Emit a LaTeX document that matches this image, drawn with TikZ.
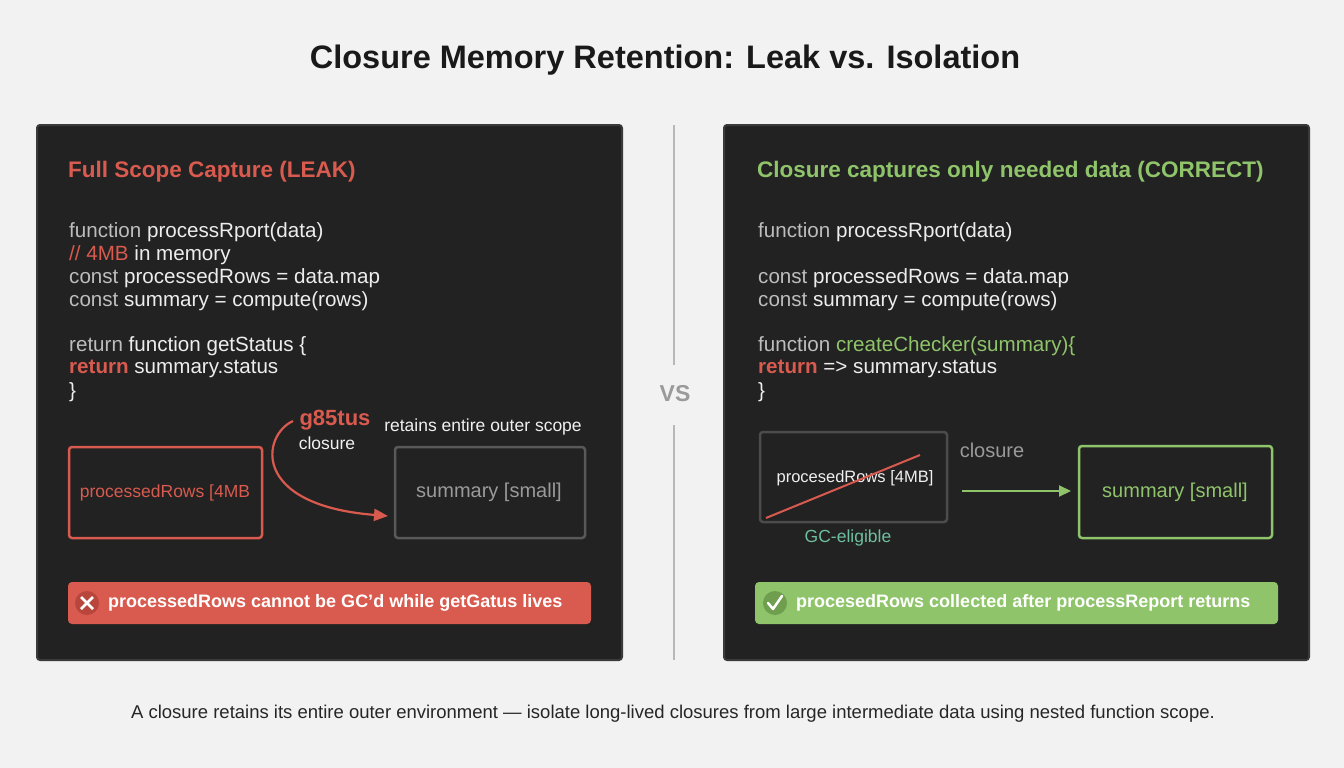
\documentclass[tikz,border=0pt]{standalone}
\usepackage{fontspec}
\setmainfont{Liberation Sans}
\usetikzlibrary{arrows.meta}
\definecolor{bg}{HTML}{F2F2F2}
\definecolor{panel}{HTML}{222222}
\definecolor{pedge}{HTML}{3A3A3A}
\definecolor{red}{HTML}{D95A4E}
\definecolor{dred}{HTML}{B8463C}
\definecolor{grn}{HTML}{8FC46A}
\definecolor{dgrn}{HTML}{6E9E4E}
\definecolor{kw}{HTML}{BDBDBD}
\definecolor{txt}{HTML}{EDEDED}
\definecolor{gry}{HTML}{9A9A9A}
\definecolor{teal}{HTML}{6FBF9F}
\begin{document}
\begin{tikzpicture}[x=1pt,y=-1pt,
  code/.style={anchor=west,inner sep=0,text=txt,font=\fontsize{20.6}{24}\selectfont},
  panelbox/.style={fill=panel,draw=pedge,line width=2pt,rounded corners=3pt},
  box/.style={line width=2.5pt,rounded corners=3pt,fill=panel},
  banner/.style={rounded corners=4pt},
  lbl/.style={inner sep=0,font=\fontsize{17.5}{20}\selectfont}]
\fill[bg] (0,0) rectangle (1344,768);
\node[inner sep=0,font=\bfseries\fontsize{32.5}{36}\selectfont,text=black!90] (title) at (665,60) {Closure Memory Retention: Leak vs. Isolation};
% panels
\draw[panelbox] (37,125) rectangle (622,660);
\draw[panelbox] (724,125) rectangle (1309,660);
% divider
\draw[gry!70,line width=2pt] (674,125) -- (674,365);
\draw[gry!70,line width=2pt] (674,425) -- (674,660);
\node[inner sep=0,font=\bfseries\fontsize{23}{26}\selectfont,text=gry] (vs) at (675,394) {VS};
% left panel
\node[anchor=west,inner sep=0,text=red,font=\bfseries\fontsize{22.5}{26}\selectfont] (lh) at (68,172) {Full Scope Capture (LEAK)};
\node[code] (l1) at (69,232) {\textcolor{kw}{function} processRport(data)};
\node[code] (l2) at (69,255) {\textcolor{red}{// 4MB} in memory};
\node[code] (l3) at (69,278) {\textcolor{kw}{const} processedRows = data.map};
\node[code] (l4) at (69,301) {\textcolor{kw}{const} summary = compute(rows)};
\node[code] (l5) at (69,346) {\textcolor{kw}{return} function getStatus \{};
\node[code] (l6) at (69,369) {\textcolor{red}{\bfseries return} summary.status};
\node[code] (l7) at (69,392) {\}};
\draw[box,draw=red] (69,447) rectangle (262,538);
\node[lbl,text=red] (pr) at (165,493) {processedRows [4MB};
\draw[box,draw=gray!70!black] (395,447) rectangle (585,538);
\node[lbl,text=gry,font=\fontsize{20}{23}\selectfont] (sm) at (489,492) {summary [small]};
\coordinate (as) at (293,421);
\coordinate (ae) at (388,516);
\draw[red,line width=2.2pt,-{Triangle[length=14pt,width=12pt]}] (as) .. controls (262,435) and (250,505) .. (ae);
\node[inner sep=0,text=red,font=\bfseries\fontsize{22}{25}\selectfont] (g8) at (335,420) {g85tus};
\node[lbl,text=txt!85] (cl) at (327,443) {closure};
\node[lbl,text=txt!85] (ret) at (483,427) {retains entire outer scope};
\fill[banner,red] (68,582) rectangle (591,624);
\fill[dred] (87,603) circle (12);
\draw[white,line width=2.5pt] (81,597) -- (93,609) (81,609) -- (93,597);
\node[anchor=west,inner sep=0,text=white,font=\bfseries\fontsize{18}{21}\selectfont] (lb) at (108,603) {processedRows cannot be GC'd while getGatus lives};
% right panel
\node[anchor=west,inner sep=0,text=grn,font=\bfseries\fontsize{22.5}{26}\selectfont] (rh) at (757,172) {Closure captures only needed data (CORRECT)};
\node[code] (r1) at (758,232) {\textcolor{kw}{function} processRport(data)};
\node[code] (r3) at (758,278) {\textcolor{kw}{const} processedRows = data.map};
\node[code] (r4) at (758,301) {\textcolor{kw}{const} summary = compute(rows)};
\node[code] (r5) at (758,346) {\textcolor{kw}{function} \textcolor{grn}{createChecker(summary)\{}};
\node[code] (r6) at (758,369) {\textcolor{red}{\bfseries return} => summary.status};
\node[code] (r7) at (758,392) {\}};
\draw[box,draw=gray!60!black] (760,432) rectangle (947,522);
\node[lbl,text=txt!85,font=\fontsize{16.5}{19}\selectfont] (pr2) at (855,478) {procesedRows [4MB]};
\draw[red,line width=2pt] (766,518) -- (920,455);
\node[lbl,text=teal] (gc) at (848,538) {GC-eligible};
\node[lbl,text=gry,font=\fontsize{20}{23}\selectfont] (cl2) at (992,450) {closure};
\coordinate (bs) at (962,491);
\coordinate (be) at (1071,491);
\draw[grn,line width=2pt,-{Triangle[length=12pt,width=11pt]}] (bs) -- (be);
\draw[box,draw=grn] (1079,446) rectangle (1272,538);
\node[lbl,text=grn,font=\fontsize{20}{23}\selectfont] (sm2) at (1175,492) {summary [small]};
\fill[banner,grn] (755,582) rectangle (1278,624);
\fill[dgrn] (775,603) circle (12);
\draw[white,line width=2.5pt,line cap=round,line join=round] (768,603) -- (773,609) -- (782,596);
\node[anchor=west,inner sep=0,text=white,font=\bfseries\fontsize{18}{21}\selectfont] (rb) at (796,603) {procesedRows collected after processReport returns};
% footer
\node[inner sep=0,text=black!85,font=\fontsize{18.5}{22}\selectfont] (ft) at (673,714) {A closure retains its entire outer environment — isolate long-lived closures from large intermediate data using nested function scope.};
\end{tikzpicture}
\end{document}
